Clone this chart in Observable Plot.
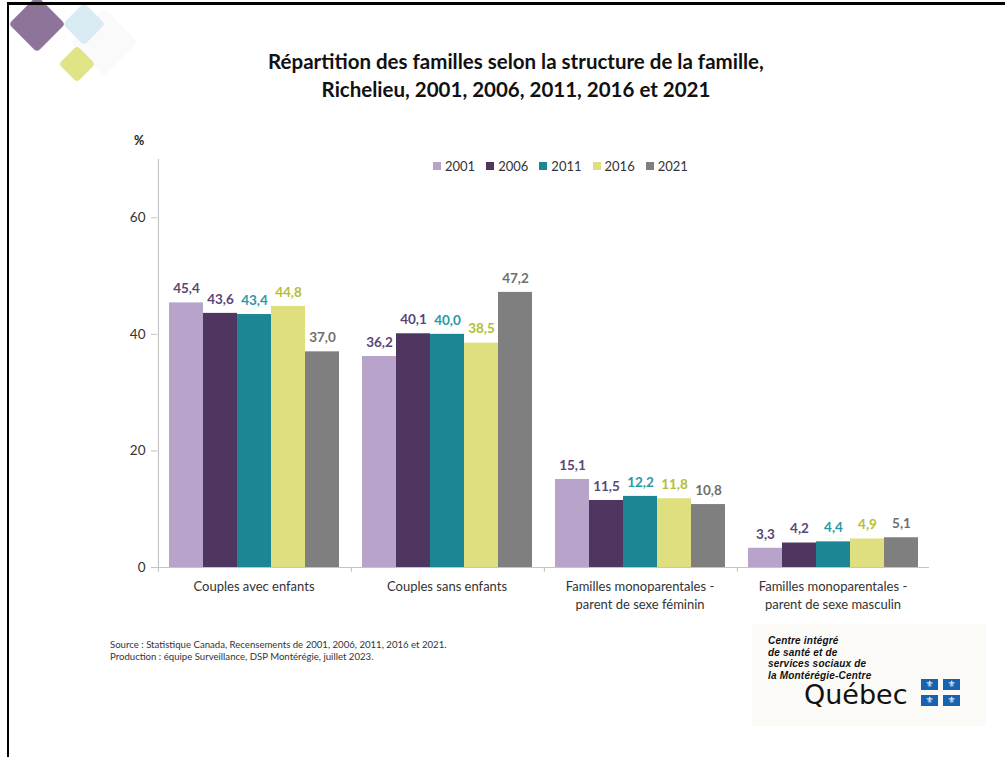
<!DOCTYPE html>
<html>
<head>
<meta charset="utf-8">
<script src="https://cdn.jsdelivr.net/npm/d3@7"></script>
<script src="https://cdn.jsdelivr.net/npm/@observablehq/plot@0.6"></script>
<style>
  html, body { margin: 0; padding: 0; background: #fff; }
  #page { position: relative; width: 1005px; height: 757px; overflow: hidden; font-family: Lato, "Open Sans", sans-serif; background: #fff; }
  .abs { position: absolute; }
  #bordTop { left: 7px; top: 2px; width: 998px; height: 3px; background: #000; }
  #bordLeft { left: 7px; top: 2px; width: 2px; height: 760px; background: #000; }
  .dia { position: absolute; transform: rotate(45deg); border-radius: 4px; }
  #title { left: 0; width: 1032px; top: 47px; text-align: center; font-size: 20.5px; font-weight: bold; color: #111; line-height: 28px; }
  #pct { left: 134px; top: 133px; font-size: 12.5px; color: #222; font-weight: bold; }
  #chart { left: 0; top: 130px; }
  #legend { left: 433px; top: 149px; }
  .lg-swatch { margin-right: 11px !important; font-size: 13px; color: #333; }
  .lg-swatch > svg { margin-right: 4px !important; }
  #source { left: 110px; top: 639px; font-size: 9.6px; color: #333; line-height: 12px; font-family: Lato, sans-serif; }
  #logoBox { left: 752px; top: 624px; width: 234px; height: 102px; background: #fbfaf6; }
  #logoText { left: 768px; top: 635px; font-family: "Liberation Sans", Arial, sans-serif; font-size: 10px; font-weight: bold; font-style: italic; color: #111; line-height: 11.5px; letter-spacing: 0.2px; white-space: nowrap; }
  #quebec { left: 804px; top: 682px; font-family: "DejaVu Sans", sans-serif; font-size: 27px; line-height: 26px; color: #111; }
  .fl { position: absolute; width: 17px; height: 11px; background: #1763b0; color: #fff; font-size: 9px; line-height: 11px; text-align: center; font-family: "DejaVu Sans", sans-serif; }
</style>
</head>
<body>
<div id="page">
  <div class="dia" style="left:80px;top:18px;width:48px;height:48px;background:#fafafb;"></div>
  <div class="dia" style="left:69px;top:9px;width:30px;height:30px;background:#d9ebf2;"></div>
  <div class="dia" style="left:17px;top:4px;width:40px;height:40px;background:#8b6f97;opacity:0.97"></div>
  <div class="dia" style="left:64px;top:51px;width:26px;height:26px;background:#dfe487;"></div>
  <div class="abs" id="bordTop"></div>
  <div class="abs" id="bordLeft"></div>
  <div class="abs" id="title">Répartition des familles selon la structure de la famille,<br>Richelieu, 2001, 2006, 2011, 2016 et 2021</div>
  <div class="abs" id="pct">%</div>
  <div class="abs" id="chart"></div>
  <div class="abs" id="legend"></div>
  <div class="abs" id="source">Source : Statistique Canada, Recensements de 2001, 2006, 2011, 2016 et 2021.<br>Production : équipe Surveillance, DSP Montérégie, juillet 2023.</div>
  <div class="abs" id="logoBox"></div>
  <div class="abs" id="logoText">Centre intégré<br>de santé et de<br>services sociaux de<br>la Montérégie-Centre</div>
  <div class="abs" id="quebec">Québec</div>
  <div class="fl" style="left:921px;top:679px">⚜</div>
  <div class="fl" style="left:943px;top:679px">⚜</div>
  <div class="fl" style="left:921px;top:695px">⚜</div>
  <div class="fl" style="left:943px;top:695px">⚜</div>
</div>
<script>
const categories = ["Couples avec enfants", "Couples sans enfants", "Familles monoparentales - parent de sexe féminin", "Familles monoparentales - parent de sexe masculin"];
const categoryLabels = ["Couples avec enfants", "Couples sans enfants", "Familles monoparentales -\nparent de sexe féminin", "Familles monoparentales -\nparent de sexe masculin"];
const years = ["2001", "2006", "2011", "2016", "2021"];
const values2001 = [45.4, 36.2, 15.1, 3.3];
const values2006 = [43.6, 40.1, 11.5, 4.2];
const values2011 = [43.4, 40.0, 12.2, 4.4];
const values2016 = [44.8, 38.5, 11.8, 4.9];
const values2021 = [37.0, 47.2, 10.8, 5.1];
const yTicks = [0, 20, 40, 60];
const barColors = ["#b8a3cb", "#4f3661", "#1d8694", "#e0df80", "#7f7f7f"];
const labelColors = ["#5a4676", "#5a4676", "#2a98a8", "#b5bd38", "#6f6f6f"];

const series = [values2001, values2006, values2011, values2016, values2021];
const rows = categories.flatMap((c, i) => years.map((y, j) => ({category: c, year: y, value: series[j][i]})));
const boundaryRows = categories.map((c, i) => ({category: c, top: i === 0 ? 70 : 0}));

const W = 1005, ML = 157, MR = 76;
const facetW = (W - ML - MR) / categories.length;
const outerPad = 0.32;
const step = facetW / (years.length + 2 * outerPad);
const boundaryDx = -(step / 2 + outerPad * step);
const fmt = v => v.toFixed(1).replace(".", ",");
const labelOf = Object.fromEntries(categories.map((c, i) => [c, categoryLabels[i]]));
const labelColorOf = Object.fromEntries(years.map((y, i) => [y, labelColors[i]]));

const chart = Plot.plot({
  width: W, height: 497,
  marginTop: 29, marginLeft: ML, marginRight: MR, marginBottom: 60,
  style: {fontFamily: "Lato, sans-serif", background: "transparent"},
  fx: {domain: categories, padding: 0, label: null},
  x: {domain: years, paddingInner: 0, paddingOuter: outerPad, axis: null},
  y: {domain: [0, 70]},
  color: {domain: years, range: barColors},
  marks: [
    Plot.barY(rows, {fx: "category", x: "year", y: "value", fill: "year"}),
    Plot.ruleY([0], {stroke: "#c4c4c4", strokeWidth: 1.2}),
    Plot.ruleX(boundaryRows, {fx: "category", x: () => years[0], y1: -0.8, y2: "top", dx: boundaryDx, stroke: "#c4c4c4", strokeWidth: 1.2}),
    Plot.text(rows, {fx: "category", x: "year", y: "value", text: d => fmt(d.value), dy: -14,
      fill: {value: d => labelColorOf[d.year], scale: null}, fontWeight: "bold", fontSize: 13.5}),
    Plot.axisY({ticks: yTicks, tickSize: 6, tickPadding: 6, fontSize: 13.5, label: null, stroke: "#c4c4c4", fill: "#333"}),
    Plot.axisFx({anchor: "bottom", tickSize: 0, tickPadding: 11, fontSize: 13, lineHeight: 1.38,
      tickFormat: c => labelOf[c], label: null, fill: "#333"})
  ]
});
document.getElementById("chart").appendChild(chart);

const legend = Plot.legend({
  legend: "swatches",
  color: {type: "ordinal", domain: years, range: barColors},
  swatchSize: 8,
  className: "lg",
  style: {fontFamily: "Lato, sans-serif", fontSize: "13px", color: "#333"}
});
document.getElementById("legend").appendChild(legend);
</script>
</body>
</html>
